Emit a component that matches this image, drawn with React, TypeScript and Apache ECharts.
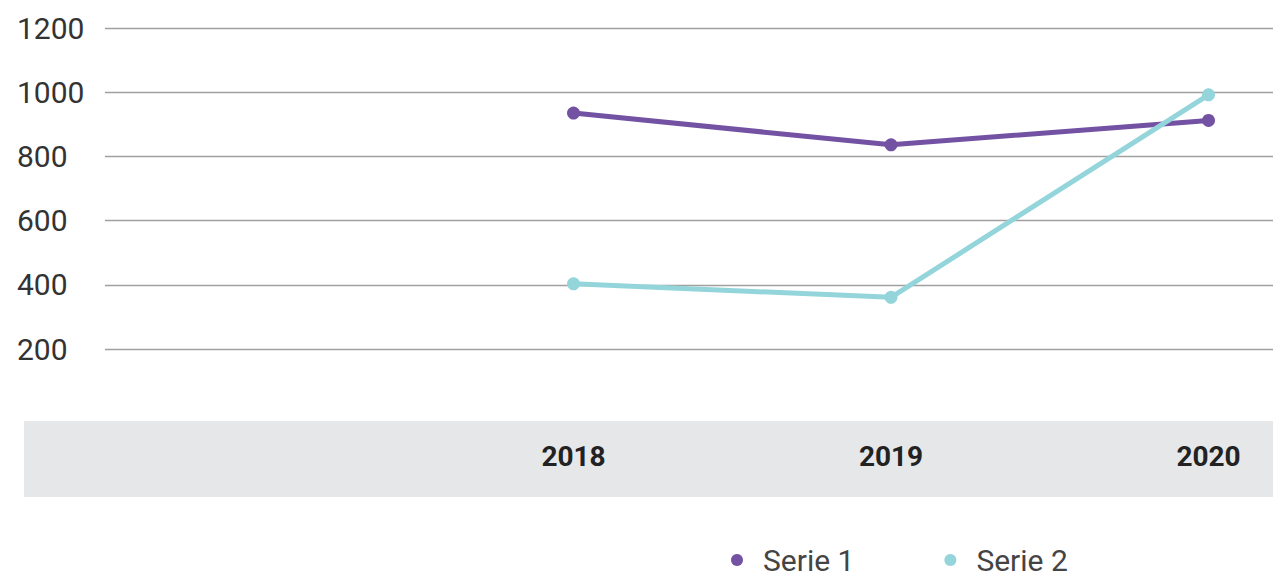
import React, { useEffect, useRef } from "react";
import * as echarts from "echarts";

const years = [2018, 2019, 2020];
const serie1 = [935, 836, 912];
const serie2 = [403, 361, 992];
const seriesNames = ["Serie 1", "Serie 2"];
const yTicks = { min: 200, max: 1200, interval: 200 };

export default function App() {
  const ref = useRef<HTMLDivElement>(null);
  useEffect(() => {
    if (!ref.current) return;
    const chart = echarts.init(ref.current, null, { renderer: "svg" });
    const font = "Roboto";
    chart.setOption({
      animation: false,
      backgroundColor: "#ffffff",
      textStyle: { fontFamily: font },
      graphic: [
        {
          type: "rect",
          z: -10,
          silent: true,
          shape: { x: 24, y: 421, width: 1249, height: 76 },
          style: { fill: "#e6e7e9" },
        },
      ],
      grid: { left: 105, right: 0, top: 28, height: 321 },
      xAxis: {
        type: "value",
        min: 2016.5244,
        max: 2020.2031,
        axisLine: { show: false },
        axisTick: { show: false },
        splitLine: { show: false },
        axisLabel: {
          customValues: years,
          formatter: (v: number) => String(Math.round(v)),
          margin: 107,
          verticalAlign: "middle",
          fontFamily: font,
          fontSize: 28,
          fontWeight: "bold",
          color: "#222222",
        },
      },
      yAxis: {
        type: "value",
        min: yTicks.min,
        max: yTicks.max,
        interval: yTicks.interval,
        axisLine: { show: false },
        axisTick: { show: false },
        splitLine: { show: true, lineStyle: { color: "#a0a0a0", width: 1.3 } },
        axisLabel: {
          align: "left",
          margin: 88,
          formatter: (v: number) => String(v),
          fontFamily: font,
          fontSize: 30,
          color: "#333333",
        },
      },
      legend: {
        left: 726,
        top: 540,
        icon: "circle",
        itemWidth: 42,
        itemHeight: 12,
        itemGap: 90,
        textStyle: { fontFamily: font, fontSize: 30, color: "#444444" },
        data: seriesNames,
      },
      series: [
        {
          name: seriesNames[0],
          type: "line",
          data: years.map((y, i) => [y, serie1[i]]),
          symbol: "circle",
          symbolSize: 13,
          lineStyle: { width: 5, color: "#7352a3" },
          itemStyle: { color: "#7352a3" },
        },
        {
          name: seriesNames[1],
          type: "line",
          data: years.map((y, i) => [y, serie2[i]]),
          symbol: "circle",
          symbolSize: 13,
          lineStyle: { width: 5, color: "#93d5da" },
          itemStyle: { color: "#93d5da" },
        },
      ],
    });
    return () => chart.dispose();
  }, []);
  return (
    <div
      ref={ref}
      style={{ position: "fixed", left: 0, top: 0, width: 1273, height: 578 }}
    />
  );
}
